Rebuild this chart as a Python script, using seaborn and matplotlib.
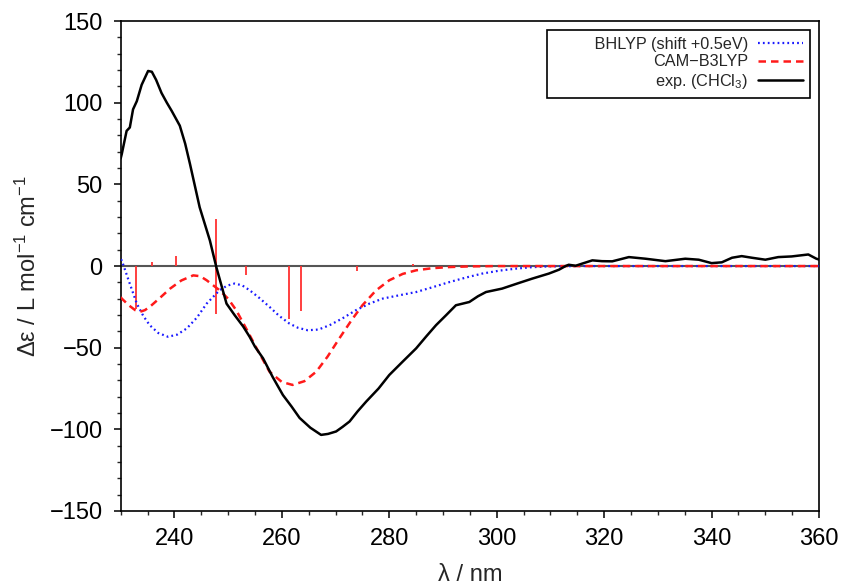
import numpy as np
import pandas as pd
import matplotlib
matplotlib.use("Agg")
import matplotlib.pyplot as plt
import seaborn as sns
from matplotlib.ticker import MultipleLocator

# ---- data ----
exp_x = [230.0, 230.2, 231.1, 231.7, 232.3, 233.0, 233.9, 235.1, 235.8, 236.6, 237.6, 238.6,
         239.5, 241.0, 242.0, 242.9, 244.7, 246.6, 247.8, 249.7, 251.2, 252.8, 254.0, 255.0,
         256.5, 258.3, 260.2, 261.8, 263.3, 265.3, 267.3, 268.6, 270.1, 271.3, 272.6, 274.1,
         275.7, 278.0, 280.0, 282.5, 285.0, 286.9, 288.7, 290.6, 292.4, 294.9, 296.5, 298.0,
         301.0, 304.0, 306.6, 309.7, 311.6, 312.8, 313.4, 314.7, 315.9, 317.8, 319.6, 321.5,
         324.6, 327.7, 331.4, 335.1, 337.6, 340.0, 341.9, 343.8, 345.6, 347.5, 350.0, 352.4,
         354.9, 358.0, 359.5, 360.0]
exp_y = [66.0, 68.6, 82.8, 84.9, 96.0, 101.0, 111.0, 119.5, 119.0, 114.0, 106.0, 100.0,
         95.0, 86.0, 75.0, 62.5, 36.0, 15.7, -0.6, -23.0, -30.0, -37.0, -43.3, -49.4,
         -56.5, -68.0, -79.0, -86.0, -93.0, -99.0, -103.4, -102.8, -101.3, -98.5, -95.2, -89.0,
         -83.0, -75.0, -66.7, -58.5, -50.4, -43.0, -36.2, -30.0, -24.0, -22.0, -18.5, -15.9,
         -13.8, -10.5, -7.7, -4.6, -2.2, 0.0, 0.8, 0.2, 1.5, 3.5, 3.0, 2.9,
         5.5, 4.5, 3.0, 4.5, 3.9, 1.8, 2.3, 5.1, 6.1, 5.1, 3.9, 5.5,
         5.9, 7.1, 4.5, 4.0]

cam_x = [230.0, 230.2, 231.5, 232.7, 233.6, 234.5, 235.4, 237.3, 239.2, 241.3, 243.5, 244.8,
         246.0, 248.4, 250.0, 251.5, 253.4, 255.3, 257.7, 260.0, 262.0, 264.2, 266.4, 268.5,
         270.7, 273.0, 275.0, 277.5, 280.0, 282.5, 285.0, 288.0, 291.2, 295.0, 300.0, 320.0,
         340.0, 360.0]
cam_y = [-19.0, -19.9, -24.0, -27.0, -28.0, -27.0, -25.0, -19.5, -13.8, -8.8, -5.7, -6.2,
         -8.7, -14.8, -20.0, -27.0, -38.5, -50.4, -64.7, -71.0, -72.8, -70.5, -64.7, -55.5,
         -44.3, -33.0, -24.0, -15.0, -8.7, -4.8, -2.6, -1.3, -0.6, -0.2, 0.0, 0.0,
         0.0, 0.0]

bh_x = [230.0, 230.2, 231.5, 233.0, 234.2, 235.4, 237.0, 238.8, 240.5, 242.3, 244.2, 246.0,
        248.4, 249.8, 251.2, 252.6, 254.0, 255.8, 257.7, 259.5, 261.4, 263.0, 264.8, 266.8,
        268.9, 271.3, 273.8, 276.3, 278.8, 282.0, 285.0, 288.0, 291.2, 294.3, 297.3, 300.5,
        303.5, 306.5, 309.7, 315.0, 330.0, 360.0]
bh_y = [4.0, 3.5, -9.0, -23.0, -30.5, -36.2, -41.0, -43.3, -42.0, -38.2, -31.5, -23.0,
        -14.8, -12.0, -10.7, -11.8, -14.8, -19.5, -25.0, -30.5, -35.2, -37.8, -39.3, -38.9,
        -36.2, -32.0, -27.0, -23.0, -19.9, -17.8, -15.9, -13.0, -9.8, -7.0, -4.6, -2.8,
        -1.6, -0.7, -0.2, 0.0, 0.0, 0.0]

stick_x = [232.8, 235.8, 240.3, 247.8, 247.7, 253.4, 261.4, 263.6, 274.0, 284.5]
stick_y = [-26.0, 2.4, 6.0, 29.0, -29.5, -5.7, -32.7, -27.5, -3.0, 1.0]

xticks = [240, 260, 280, 300, 320, 340, 360]
yticks = [-150, -100, -50, 0, 50, 100, 150]

labels = ['BHLYP (shift +0.5eV)', 'CAM\u2212B3LYP', 'exp. (CHCl$_3$)']

# ---- styling ----
sns.set_style("ticks")
plt.rcParams['font.family'] = ['Liberation Sans', 'DejaVu Sans']
plt.rcParams['mathtext.default'] = 'regular'
plt.rcParams['axes.linewidth'] = 1.2

fig = plt.figure(figsize=(8.47, 5.88), dpi=100)
ax = fig.add_axes([0.1425, 0.131, 0.8245, 0.833])

ax.axhline(0, color='#555555', lw=1.5, zorder=1)

ax.vlines(stick_x, 0, stick_y, color='#ff3030', lw=1.3, zorder=2)

df_bh = pd.DataFrame({'x': bh_x, 'y': bh_y})
df_cam = pd.DataFrame({'x': cam_x, 'y': cam_y})
df_exp = pd.DataFrame({'x': exp_x, 'y': exp_y})

sns.lineplot(data=df_bh, x='x', y='y', ax=ax, color='#1a1aff', lw=1.6,
             linestyle=(0, (0.8, 1.4)), label='         ' + labels[0], zorder=3, sort=False)
sns.lineplot(data=df_cam, x='x', y='y', ax=ax, color='#ff1a1a', lw=1.8,
             linestyle=(0, (3, 2)), label=labels[1], zorder=3, sort=False)
sns.lineplot(data=df_exp, x='x', y='y', ax=ax, color='black', lw=1.8,
             label=labels[2], zorder=4, sort=False)

ax.set_xlim(230, 360)
ax.set_ylim(-150, 150)
ax.set_xticks(xticks)
ax.set_yticks(yticks)
ax.set_yticklabels([str(t).replace('-', '\u2212') for t in yticks])
ax.xaxis.set_minor_locator(MultipleLocator(5))
ax.yaxis.set_minor_locator(MultipleLocator(10))
ax.tick_params(axis='both', which='major', direction='out', length=5, width=1.1,
               labelsize=17, colors='black', top=False, right=False)
ax.tick_params(axis='both', which='minor', direction='out', length=3, width=1.0,
               top=False, right=False)
ax.tick_params(axis='x', pad=7)
ax.tick_params(axis='y', pad=8)

for s in ax.spines.values():
    s.set_visible(True)
    s.set_color('black')

ax.set_xlabel('\u03bb / nm', fontsize=17, labelpad=10)
ax.set_ylabel('\u0394\u03b5 / L mol$^{\u22121}$ cm$^{\u22121}$', fontsize=17, labelpad=6)

leg = ax.legend(loc='upper right', markerfirst=False, frameon=True, fancybox=False,
                edgecolor='black', fontsize=11.7, handlelength=2.8, borderaxespad=0.55,
                labelspacing=0.15, borderpad=0.42, handletextpad=0.6)
leg.get_frame().set_linewidth(1.2)
leg.get_frame().set_alpha(1)

fig.savefig('out.png', dpi=100)
